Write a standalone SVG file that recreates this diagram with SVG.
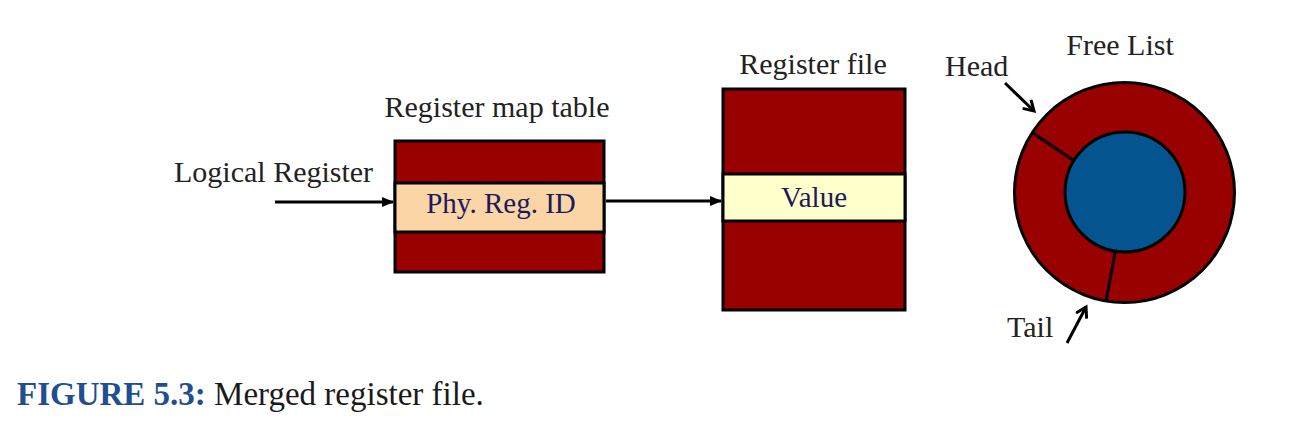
<svg xmlns="http://www.w3.org/2000/svg" width="1290" height="421" viewBox="0 0 1290 421">
<style>
.lbl{font-family:"Liberation Serif","Times New Roman",serif;font-size:30px;fill:#222}
.in{font-family:"Liberation Serif","Times New Roman",serif;font-size:29px;fill:#1c1a5c}
.red{fill:#990000;stroke:#000;stroke-width:3}
.ln{stroke:#000;stroke-width:3;fill:none}
</style>
<defs>
<marker id="ah" markerWidth="12" markerHeight="12" refX="11" refY="6" orient="auto" markerUnits="userSpaceOnUse">
<path d="M0,1 L12,6 L0,11 Z" fill="#000"/>
</marker>
<marker id="oh" markerWidth="14" markerHeight="14" refX="11" refY="7" orient="auto" markerUnits="userSpaceOnUse">
<path d="M1,1 L11,7 L1,13" fill="none" stroke="#000" stroke-width="3"/>
</marker>
</defs>
<rect width="1290" height="421" fill="#fff"/>
<g id="map-table">
<rect class="red" x="395" y="141" width="209" height="131"/>
<rect x="395" y="183" width="209" height="49" fill="#fcd5a6" stroke="#000" stroke-width="3"/>
<text class="lbl" x="497" y="117" text-anchor="middle">Register map table</text>
<text class="in" x="501" y="213" text-anchor="middle">Phy. Reg. ID</text>
</g>
<g id="register-file">
<rect class="red" x="723" y="89" width="182" height="221"/>
<rect x="723" y="174" width="182" height="47" fill="#ffffcc" stroke="#000" stroke-width="3"/>
<text class="lbl" x="813" y="74" text-anchor="middle">Register file</text>
<text class="in" x="814" y="207" text-anchor="middle">Value</text>
</g>
<g id="free-list">
<circle cx="1124.5" cy="192.5" r="110" class="red"/>
<circle cx="1125" cy="192" r="60" fill="#04558f" stroke="#000" stroke-width="3"/>
<line class="ln" x1="1033" y1="133" x2="1073" y2="160"/>
<line class="ln" x1="1115" y1="253" x2="1106" y2="301"/>
<text class="lbl" x="1120" y="55" text-anchor="middle">Free List</text>
</g>
<g id="head-label">
<text class="lbl" x="945" y="76">Head</text>
</g>
<g id="tail-label">
<text class="lbl" x="1007" y="337">Tail</text>
</g>
<g id="logical-register">
<text class="lbl" x="174" y="182">Logical Register</text>
</g>
<g id="connectors">
<line class="ln" x1="275" y1="202" x2="393" y2="202" marker-end="url(#ah)"/>
<line class="ln" x1="606" y1="201" x2="721" y2="201" marker-end="url(#ah)"/>
<line class="ln" x1="1005" y1="83" x2="1034" y2="111" marker-end="url(#oh)"/>
<line class="ln" x1="1067" y1="343" x2="1086" y2="307" marker-end="url(#oh)"/>
</g>
<g id="caption">
<text x="17" y="405" style="font-family:'Liberation Serif','Times New Roman',serif;font-size:33px"><tspan font-weight="bold" fill="#1f4f8f">FIGURE 5.3:</tspan><tspan fill="#1a1a1a"> Merged register file.</tspan></text>
</g>
</svg>
